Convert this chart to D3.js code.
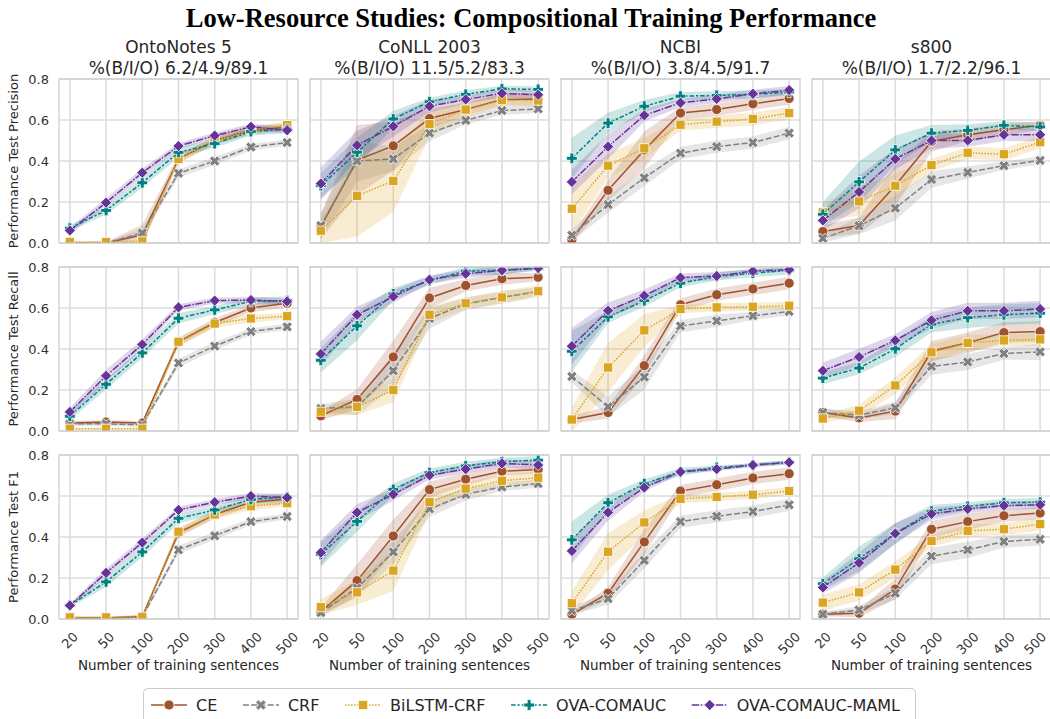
<!DOCTYPE html>
<html>
<head>
<meta charset="utf-8">
<script src="https://cdn.jsdelivr.net/npm/d3@7"></script>
<style>
  html, body { margin: 0; padding: 0; background: #fff; }
  svg { display: block; }
  text { font-family: "DejaVu Sans", sans-serif; }
</style>
</head>
<body>
<svg id="chart" width="1050" height="719"></svg>
<script>
// ---- data ----
const trainSizes = ["20", "50", "100", "200", "300", "400", "500"];
const datasets = ["OntoNotes 5", "CoNLL 2003", "NCBI", "s800"];
const bioRatios = ["%(B/I/O) 6.2/4.9/89.1", "%(B/I/O) 11.5/5.2/83.3", "%(B/I/O) 3.8/4.5/91.7", "%(B/I/O) 1.7/2.2/96.1"];
const metrics = ["Precision", "Recall", "F1"];
const methods = ["CE", "CRF", "BiLSTM-CRF", "OVA-COMAUC", "OVA-COMAUC-MAML"];
const yTicks = [0, 0.2, 0.4, 0.6, 0.8];

// mean scores per method (rows follow `methods`)
const precisionOntoNotes = [
  [0.0, 0.0, 0.04, 0.41, 0.50, 0.55, 0.565],
  [0.0, 0.0, 0.049, 0.34, 0.40, 0.468, 0.49],
  [0.005, 0.005, 0.008, 0.41, 0.50, 0.55, 0.575],
  [0.072, 0.159, 0.294, 0.442, 0.485, 0.544, 0.555],
  [0.061, 0.197, 0.343, 0.473, 0.524, 0.567, 0.55]
];
const precisionCoNLL = [
  [0.08, 0.405, 0.474, 0.607, 0.651, 0.70, 0.703],
  [0.085, 0.40, 0.41, 0.536, 0.598, 0.646, 0.654],
  [0.06, 0.23, 0.303, 0.58, 0.651, 0.697, 0.695],
  [0.28, 0.443, 0.605, 0.689, 0.725, 0.752, 0.749],
  [0.29, 0.477, 0.569, 0.667, 0.70, 0.73, 0.723]
];
const precisionNCBI = [
  [0.016, 0.257, 0.454, 0.634, 0.651, 0.679, 0.705],
  [0.038, 0.187, 0.318, 0.438, 0.47, 0.49, 0.536],
  [0.167, 0.377, 0.462, 0.577, 0.592, 0.605, 0.634],
  [0.413, 0.585, 0.667, 0.716, 0.72, 0.725, 0.736],
  [0.298, 0.47, 0.623, 0.684, 0.703, 0.728, 0.746]
];
const precisionS800 = [
  [0.056, 0.085, 0.28, 0.495, 0.528, 0.553, 0.574],
  [0.023, 0.084, 0.17, 0.31, 0.344, 0.377, 0.403],
  [0.15, 0.203, 0.279, 0.38, 0.44, 0.433, 0.492],
  [0.14, 0.298, 0.454, 0.536, 0.549, 0.574, 0.566],
  [0.11, 0.249, 0.41, 0.50, 0.50, 0.528, 0.528]
];
const recallOntoNotes = [
  [0.039, 0.044, 0.039, 0.435, 0.529, 0.60, 0.623],
  [0.035, 0.035, 0.03, 0.332, 0.414, 0.485, 0.508],
  [0.011, 0.011, 0.011, 0.435, 0.524, 0.549, 0.56],
  [0.072, 0.228, 0.381, 0.55, 0.591, 0.632, 0.636],
  [0.093, 0.269, 0.422, 0.603, 0.636, 0.639, 0.632]
];
const recallCoNLL = [
  [0.074, 0.154, 0.361, 0.649, 0.71, 0.743, 0.75],
  [0.11, 0.118, 0.294, 0.549, 0.62, 0.652, 0.68],
  [0.094, 0.118, 0.20, 0.567, 0.623, 0.652, 0.682],
  [0.345, 0.513, 0.669, 0.734, 0.78, 0.784, 0.792],
  [0.376, 0.567, 0.656, 0.738, 0.767, 0.784, 0.795]
];
const recallNCBI = [
  [0.056, 0.09, 0.319, 0.616, 0.665, 0.693, 0.721],
  [0.266, 0.118, 0.263, 0.512, 0.537, 0.562, 0.583],
  [0.056, 0.31, 0.491, 0.595, 0.603, 0.606, 0.611],
  [0.389, 0.557, 0.636, 0.721, 0.754, 0.77, 0.784],
  [0.414, 0.587, 0.66, 0.748, 0.756, 0.78, 0.787]
];
const recallS800 = [
  [0.09, 0.064, 0.097, 0.389, 0.43, 0.48, 0.485],
  [0.09, 0.077, 0.113, 0.315, 0.337, 0.378, 0.386],
  [0.061, 0.099, 0.222, 0.384, 0.43, 0.442, 0.447],
  [0.258, 0.307, 0.401, 0.521, 0.553, 0.567, 0.575],
  [0.294, 0.361, 0.442, 0.54, 0.586, 0.586, 0.595]
];
const f1OntoNotes = [
  [0.005, 0.005, 0.012, 0.42, 0.509, 0.57, 0.585],
  [0.003, 0.003, 0.01, 0.337, 0.406, 0.475, 0.50],
  [0.008, 0.008, 0.01, 0.426, 0.51, 0.55, 0.565],
  [0.066, 0.181, 0.327, 0.491, 0.532, 0.583, 0.595],
  [0.066, 0.225, 0.373, 0.532, 0.57, 0.60, 0.592]
];
const f1CoNLL = [
  [0.036, 0.187, 0.405, 0.631, 0.682, 0.721, 0.729],
  [0.031, 0.151, 0.327, 0.537, 0.608, 0.644, 0.66],
  [0.058, 0.13, 0.236, 0.57, 0.636, 0.674, 0.689],
  [0.315, 0.476, 0.632, 0.714, 0.747, 0.767, 0.775],
  [0.324, 0.52, 0.608, 0.701, 0.731, 0.759, 0.751]
];
const f1NCBI = [
  [0.023, 0.126, 0.376, 0.624, 0.655, 0.688, 0.709],
  [0.041, 0.099, 0.286, 0.475, 0.501, 0.524, 0.557],
  [0.077, 0.328, 0.471, 0.586, 0.595, 0.606, 0.624],
  [0.386, 0.567, 0.66, 0.718, 0.739, 0.751, 0.764],
  [0.332, 0.52, 0.641, 0.718, 0.731, 0.751, 0.764]
];
const f1S800 = [
  [0.023, 0.028, 0.146, 0.438, 0.475, 0.504, 0.517],
  [0.023, 0.044, 0.126, 0.307, 0.337, 0.378, 0.389],
  [0.08, 0.13, 0.241, 0.381, 0.43, 0.438, 0.463],
  [0.172, 0.294, 0.417, 0.526, 0.549, 0.567, 0.57],
  [0.154, 0.274, 0.417, 0.513, 0.537, 0.553, 0.557]
];

// half-width of the confidence band per method and training size
const precisionOntoNotesCI = [
  [0.005, 0.005, 0.05, 0.02, 0.02, 0.02, 0.02],
  [0.005, 0.005, 0.02, 0.02, 0.02, 0.015, 0.015],
  [0.005, 0.005, 0.01, 0.02, 0.02, 0.02, 0.015],
  [0.015, 0.02, 0.025, 0.025, 0.02, 0.02, 0.02],
  [0.015, 0.02, 0.02, 0.015, 0.015, 0.015, 0.015]
];
const precisionCoNLLCI = [
  [0.06, 0.17, 0.12, 0.05, 0.03, 0.03, 0.03],
  [0.06, 0.1, 0.06, 0.04, 0.02, 0.02, 0.02],
  [0.06, 0.2, 0.15, 0.06, 0.04, 0.03, 0.03],
  [0.06, 0.07, 0.04, 0.02, 0.02, 0.015, 0.015],
  [0.08, 0.07, 0.05, 0.03, 0.02, 0.02, 0.02]
];
const precisionNCBICI = [
  [0.02, 0.05, 0.09, 0.03, 0.03, 0.03, 0.03],
  [0.03, 0.04, 0.04, 0.03, 0.03, 0.03, 0.03],
  [0.12, 0.06, 0.05, 0.03, 0.03, 0.03, 0.03],
  [0.1, 0.05, 0.03, 0.02, 0.02, 0.02, 0.015],
  [0.06, 0.06, 0.03, 0.02, 0.02, 0.02, 0.02]
];
const precisionS800CI = [
  [0.03, 0.04, 0.1, 0.05, 0.03, 0.03, 0.02],
  [0.02, 0.04, 0.06, 0.04, 0.03, 0.02, 0.02],
  [0.04, 0.07, 0.06, 0.03, 0.03, 0.03, 0.03],
  [0.06, 0.1, 0.07, 0.04, 0.03, 0.02, 0.02],
  [0.05, 0.08, 0.05, 0.04, 0.03, 0.03, 0.03]
];
const recallOntoNotesCI = [
  [0.01, 0.01, 0.01, 0.02, 0.02, 0.02, 0.02],
  [0.01, 0.01, 0.01, 0.02, 0.02, 0.015, 0.015],
  [0.005, 0.005, 0.005, 0.02, 0.02, 0.02, 0.015],
  [0.02, 0.025, 0.025, 0.025, 0.02, 0.02, 0.02],
  [0.02, 0.03, 0.025, 0.015, 0.015, 0.015, 0.015]
];
const recallCoNLLCI = [
  [0.02, 0.05, 0.08, 0.05, 0.03, 0.03, 0.02],
  [0.02, 0.04, 0.08, 0.05, 0.03, 0.03, 0.02],
  [0.02, 0.04, 0.06, 0.04, 0.03, 0.03, 0.03],
  [0.06, 0.07, 0.03, 0.02, 0.02, 0.02, 0.01],
  [0.06, 0.04, 0.03, 0.02, 0.02, 0.02, 0.01]
];
const recallNCBICI = [
  [0.02, 0.03, 0.05, 0.03, 0.03, 0.03, 0.03],
  [0.03, 0.05, 0.06, 0.03, 0.03, 0.02, 0.02],
  [0.06, 0.12, 0.08, 0.02, 0.02, 0.02, 0.02],
  [0.1, 0.03, 0.03, 0.02, 0.02, 0.02, 0.02],
  [0.09, 0.04, 0.03, 0.02, 0.02, 0.01, 0.01]
];
const recallS800CI = [
  [0.02, 0.02, 0.04, 0.05, 0.05, 0.05, 0.05],
  [0.02, 0.02, 0.03, 0.04, 0.04, 0.03, 0.04],
  [0.02, 0.03, 0.04, 0.04, 0.04, 0.03, 0.03],
  [0.03, 0.03, 0.04, 0.04, 0.05, 0.05, 0.05],
  [0.04, 0.04, 0.03, 0.04, 0.04, 0.04, 0.04]
];
const f1OntoNotesCI = [
  [0.005, 0.005, 0.01, 0.02, 0.02, 0.02, 0.02],
  [0.005, 0.005, 0.01, 0.02, 0.02, 0.015, 0.015],
  [0.005, 0.005, 0.005, 0.02, 0.02, 0.02, 0.015],
  [0.01, 0.025, 0.025, 0.025, 0.02, 0.02, 0.02],
  [0.01, 0.02, 0.02, 0.015, 0.015, 0.015, 0.015]
];
const f1CoNLLCI = [
  [0.02, 0.08, 0.08, 0.04, 0.03, 0.02, 0.02],
  [0.01, 0.04, 0.06, 0.04, 0.03, 0.02, 0.02],
  [0.04, 0.06, 0.1, 0.05, 0.03, 0.03, 0.03],
  [0.06, 0.05, 0.03, 0.02, 0.02, 0.02, 0.02],
  [0.06, 0.04, 0.03, 0.02, 0.02, 0.02, 0.02]
];
const f1NCBICI = [
  [0.01, 0.03, 0.06, 0.03, 0.03, 0.03, 0.03],
  [0.02, 0.03, 0.04, 0.03, 0.03, 0.03, 0.03],
  [0.06, 0.09, 0.06, 0.02, 0.02, 0.02, 0.02],
  [0.09, 0.04, 0.02, 0.02, 0.01, 0.01, 0.01],
  [0.06, 0.04, 0.02, 0.01, 0.01, 0.01, 0.01]
];
const f1S800CI = [
  [0.01, 0.02, 0.05, 0.04, 0.04, 0.03, 0.03],
  [0.01, 0.02, 0.03, 0.04, 0.04, 0.03, 0.03],
  [0.04, 0.04, 0.04, 0.03, 0.03, 0.03, 0.03],
  [0.03, 0.06, 0.05, 0.03, 0.02, 0.02, 0.02],
  [0.03, 0.05, 0.05, 0.03, 0.02, 0.02, 0.02]
];

// grid of panels: rows = metrics, columns = datasets
const panelMeans = [
  [precisionOntoNotes, precisionCoNLL, precisionNCBI, precisionS800],
  [recallOntoNotes, recallCoNLL, recallNCBI, recallS800],
  [f1OntoNotes, f1CoNLL, f1NCBI, f1S800]
];
const panelBands = [
  [precisionOntoNotesCI, precisionCoNLLCI, precisionNCBICI, precisionS800CI],
  [recallOntoNotesCI, recallCoNLLCI, recallNCBICI, recallS800CI],
  [f1OntoNotesCI, f1CoNLLCI, f1NCBICI, f1S800CI]
];

// ---- styling ----
const colors = ["#a0522d", "#808080", "#daa520", "#008080", "#663399"];
const dashes = [null, "6,2.25", "1.5,1.5", "4.5,1.9,2.25,1.9", "7.5,1.5,1.5,1.5"];

// marker paths centred on the origin
function markerPath(kind) {
  if (kind === 0) return d3.symbol(d3.symbolCircle, 80)();
  if (kind === 2) { const h = 4.6; return `M${-h},${-h}H${h}V${h}H${-h}Z`; }
  if (kind === 4) { const h = 5.6; return `M0,${-h}L${h},0L0,${h}L${-h},0Z`; }
  // filled plus / x
  const a = 5.4, t = 1.9;
  const pts = [[-t,-a],[t,-a],[t,-t],[a,-t],[a,t],[t,t],[t,a],[-t,a],[-t,t],[-a,t],[-a,-t],[-t,-t]];
  const ang = kind === 1 ? Math.PI / 4 : 0;
  const rot = pts.map(([x, y]) => [x*Math.cos(ang) - y*Math.sin(ang), x*Math.sin(ang) + y*Math.cos(ang)]);
  return "M" + rot.map(p => p[0].toFixed(2) + "," + p[1].toFixed(2)).join("L") + "Z";
}

// ---- layout ----
const svg = d3.select("#chart");
const panelW = 239, panelH = 164;
const colX = [59, 310, 561, 812];
const rowY = [79, 267, 455];
const gridColor = "#dcdcdc";
const tickColor = "#333";

svg.append("text")
  .attr("x", 531).attr("y", 27)
  .attr("text-anchor", "middle")
  .style("font-family", "'Liberation Serif', 'Times New Roman', serif")
  .style("font-weight", "bold")
  .style("font-size", "26.5px")
  .attr("fill", "#000")
  .text("Low-Resource Studies: Compositional Training Performance");

const defs = svg.append("defs");

metrics.forEach((metric, r) => {
  const y0 = rowY[r];
  const y = d3.scaleLinear().domain([0, 0.8]).range([y0 + panelH, y0]);

  svg.append("text")
    .attr("transform", `translate(18,${y0 + panelH / 2}) rotate(-90)`)
    .attr("text-anchor", "middle")
    .style("font-size", "13px")
    .attr("fill", "#262626")
    .text("Performance Test " + metric);

  datasets.forEach((ds, c) => {
    const x0 = colX[c];
    const x = d3.scalePoint().domain(trainSizes).range([x0, x0 + panelW]).padding(0.3);
    const g = svg.append("g");
    const clipId = `clip-${r}-${c}`;
    defs.append("clipPath").attr("id", clipId)
      .append("rect").attr("x", x0).attr("y", y0).attr("width", panelW).attr("height", panelH);

    // grid
    g.append("g").selectAll("line.h").data(yTicks).join("line")
      .attr("x1", x0).attr("x2", x0 + panelW)
      .attr("y1", d => y(d)).attr("y2", d => y(d))
      .attr("stroke", gridColor).attr("stroke-width", 1.5);
    g.append("g").selectAll("line.v").data(trainSizes).join("line")
      .attr("x1", d => x(d)).attr("x2", d => x(d))
      .attr("y1", y0).attr("y2", y0 + panelH)
      .attr("stroke", gridColor).attr("stroke-width", 1.5);

    const plot = g.append("g").attr("clip-path", `url(#${clipId})`);
    const means = panelMeans[r][c];
    const bands = panelBands[r][c];

    // confidence bands
    methods.forEach((m, k) => {
      const pts = trainSizes.map((s, i) => ({ s, lo: means[k][i] - bands[k][i], hi: means[k][i] + bands[k][i] }));
      plot.append("path")
        .attr("d", d3.area().x(d => x(d.s)).y0(d => y(d.lo)).y1(d => y(d.hi))(pts))
        .attr("fill", colors[k]).attr("fill-opacity", 0.2).attr("stroke", "none");
    });

    // lines and markers
    methods.forEach((m, k) => {
      const pts = trainSizes.map((s, i) => ({ s, v: means[k][i] }));
      plot.append("path")
        .attr("d", d3.line().x(d => x(d.s)).y(d => y(d.v))(pts))
        .attr("fill", "none").attr("stroke", colors[k]).attr("stroke-width", 1.5)
        .attr("stroke-dasharray", dashes[k]);
      plot.append("g").selectAll("path").data(pts).join("path")
        .attr("transform", d => `translate(${x(d.s)},${y(d.v)})`)
        .attr("d", markerPath(k))
        .attr("fill", colors[k]).attr("stroke", "#fff").attr("stroke-width", 0.8);
    });

    // frame
    g.append("rect")
      .attr("x", x0).attr("y", y0).attr("width", panelW).attr("height", panelH)
      .attr("fill", "none").attr("stroke", "#cccccc").attr("stroke-width", 1.25);

    // y tick labels on the first column only
    if (c === 0) {
      g.append("g").selectAll("text").data(yTicks).join("text")
        .attr("x", x0 - 10).attr("y", d => y(d))
        .attr("dy", "0.35em")
        .attr("text-anchor", "end")
        .style("font-size", "13px")
        .attr("fill", tickColor)
        .text(d => d3.format(".1f")(d));
    }

    // panel titles on the top row
    if (r === 0) {
      g.append("text").attr("x", x0 + panelW / 2).attr("y", 53)
        .attr("text-anchor", "middle").style("font-size", "17px").attr("fill", "#262626")
        .text(ds);
      g.append("text").attr("x", x0 + panelW / 2).attr("y", 74)
        .attr("text-anchor", "middle").style("font-size", "17px").attr("fill", "#262626")
        .text(bioRatios[c]);
    }

    // x tick labels and axis title on the bottom row
    if (r === metrics.length - 1) {
      const labels = g.append("g").selectAll("text").data(trainSizes).join("text")
        .attr("text-anchor", "middle")
        .attr("dominant-baseline", "central")
        .style("font-size", "13px")
        .attr("fill", tickColor)
        .text(d => d);
      labels.attr("transform", function (d) {
        const w = this.getComputedTextLength();
        const half = (w + 10) * Math.SQRT1_2 / 2;
        // keep the last label of the right-most panel inside the canvas
        const shift = c === datasets.length - 1 && d === trainSizes[trainSizes.length - 1] ? -5 : 0;
        return `translate(${x(d) + shift},${y0 + panelH + 12 + half}) rotate(-45)`;
      });
      g.append("text").attr("x", x0 + panelW / 2).attr("y", 670)
        .attr("text-anchor", "middle").style("font-size", "13.5px").attr("fill", "#262626")
        .text("Number of training sentences");
    }
  });
});

// ---- legend ----
const legend = svg.append("g");
legend.append("rect")
  .attr("x", 143.5).attr("y", 688.5).attr("width", 772).attr("height", 40).attr("rx", 4)
  .attr("fill", "#fff").attr("stroke", "#cccccc").attr("stroke-width", 1);

const legendLeft = 151, legendRight = 900, handleLen = 36, textPad = 9, legendY = 705;
const items = methods.map((m, k) => {
  const item = legend.append("g");
  const t = item.append("text").attr("y", legendY).attr("dy", "0.35em")
    .style("font-size", "16px").attr("fill", "#262626").text(m);
  return { item, t, w: t.node().getComputedTextLength(), k };
});
const used = d3.sum(items, d => handleLen + textPad + d.w);
const colGap = (legendRight - legendLeft - used) / (items.length - 1);
let cursor = legendLeft;
items.forEach(({ item, t, w, k }) => {
  const cx = cursor + handleLen / 2;
  item.insert("line", "text")
    .attr("x1", cursor).attr("x2", cursor + handleLen).attr("y1", legendY).attr("y2", legendY)
    .attr("stroke", colors[k]).attr("stroke-width", 1.5).attr("stroke-dasharray", dashes[k]);
  item.insert("path", "text").attr("transform", `translate(${cx},${legendY})`)
    .attr("d", markerPath(k)).attr("fill", colors[k]).attr("stroke", "#fff").attr("stroke-width", 0.8);
  t.attr("x", cursor + handleLen + textPad);
  cursor += handleLen + textPad + w + colGap;
});
</script>
</body>
</html>
